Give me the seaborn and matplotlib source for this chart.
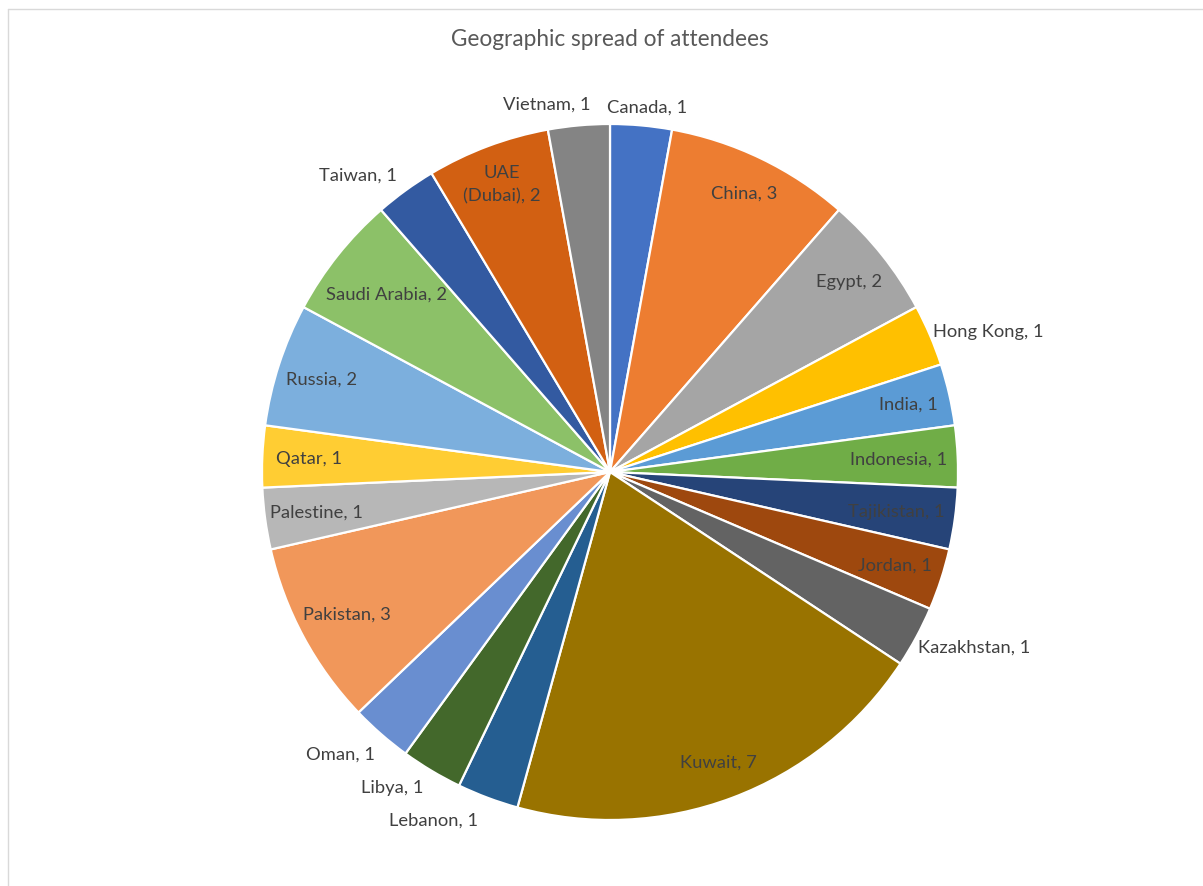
import numpy as np
import matplotlib
matplotlib.use("Agg")
import matplotlib.pyplot as plt
import seaborn as sns
from matplotlib.lines import Line2D

countries = ["Canada", "China", "Egypt", "Hong Kong", "India", "Indonesia",
             "Tajikistan", "Jordan", "Kazakhstan", "Kuwait", "Lebanon", "Libya",
             "Oman", "Pakistan", "Palestine", "Qatar", "Russia", "Saudi Arabia",
             "Taiwan", "UAE\n(Dubai)", "Vietnam"]
attendees = [1, 3, 2, 1, 1, 1, 1, 1, 1, 7, 1, 1, 1, 3, 1, 1, 2, 2, 1, 2, 1]
colors = ["#4472C4", "#ED7D31", "#A5A5A5", "#FFC000", "#5B9BD5", "#70AD47",
          "#264478", "#9E480E", "#636363", "#997300", "#255E91", "#43682B",
          "#698ED0", "#F1975A", "#B7B7B7", "#FFCD33", "#7CAFDD", "#8CC168",
          "#335AA1", "#D26012", "#848484"]
title = "Geographic spread of attendees"

# label placement (style): radius fraction and angular nudge in degrees
label_r = [1.055, 0.89, 0.88, 1.16, 0.88, 0.83, 0.83, 0.86, 1.16, 0.89, 1.12, 1.10,
           1.12, 0.86, 0.85, 0.865, 0.87, 0.82, 1.12, 0.885, 1.075]
label_da = [-0.7, 0, 0, -2.7, 0, 0, 0, 0, 2.7, 0, -6.4, -3.8,
            -2.6, 0, 0, 0, 0, 0, 4.2, 0, 4.6]

sns.set_theme(style="white")
plt.rcParams["font.family"] = ["Lato", "DejaVu Sans"]

W, H = 1203, 887
fig = plt.figure(figsize=(W / 100, H / 100), dpi=100)
ax = fig.add_axes([0, 0, 1, 1])

cx, cy, R = 610, 473, 348
palette = sns.color_palette(colors)
wedges, _ = ax.pie(attendees, colors=palette, startangle=90, counterclock=False,
                   radius=1.0, wedgeprops=dict(edgecolor="white", linewidth=1.6))

ax.set_xlim(-cx / R, (W - cx) / R)
ax.set_ylim(-(H - cy) / R, cy / R)
ax.set_aspect("auto")
ax.axis("off")

total = sum(attendees)
cum = np.cumsum([0] + attendees)
for i, (name, v) in enumerate(zip(countries, attendees)):
    mid = (cum[i] + cum[i + 1]) / 2
    ang = np.deg2rad(90 - mid / total * 360 + label_da[i])
    r = label_r[i]
    x, y = r * np.cos(ang), r * np.sin(ang)
    ax.text(x, y, f"{name}, {v}", ha="center", va="center", fontsize=13.2,
            color="#404040", linespacing=1.6)

fig.text(610 / W, 1 - 40 / H, title, ha="center", va="center", fontsize=16.3,
         color="#595959")

# chart area border
fig.add_artist(Line2D([8 / W, 8 / W], [0, 1 - 10 / H], transform=fig.transFigure,
                      color="#D9D9D9", linewidth=1))
fig.add_artist(Line2D([8 / W, 1], [1 - 10 / H, 1 - 10 / H], transform=fig.transFigure,
                      color="#D9D9D9", linewidth=1))

fig.savefig("out.png", dpi=100)
